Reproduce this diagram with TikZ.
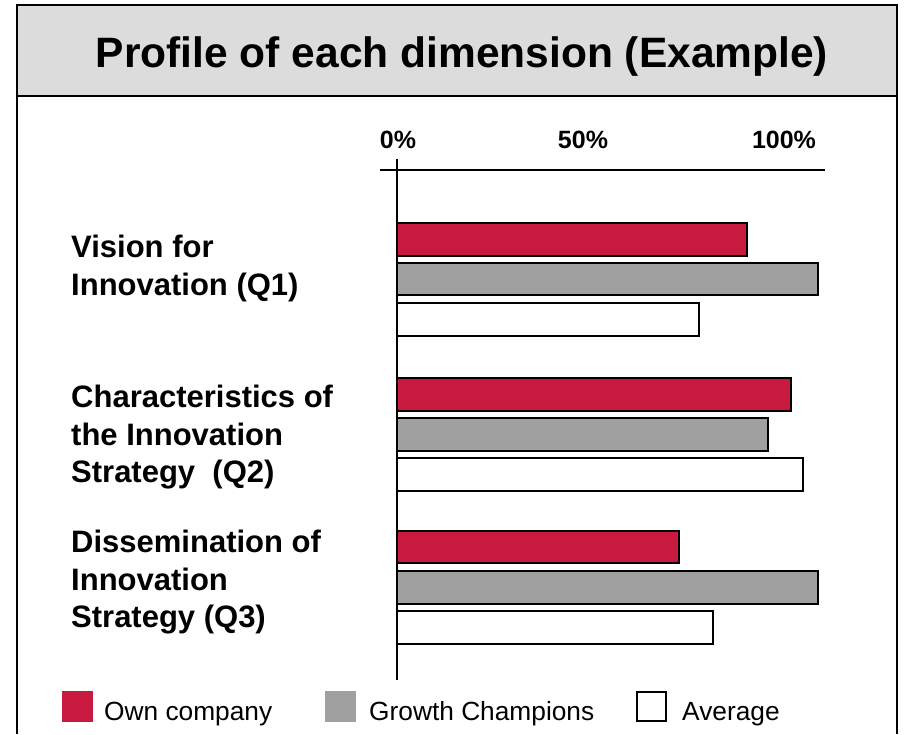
\documentclass[tikz,border=0pt]{standalone}
\usepackage{fontspec}
\setmainfont{Liberation Sans}
\definecolor{crim}{HTML}{C8193F}
\definecolor{bargray}{HTML}{A0A0A0}
\definecolor{titlegray}{HTML}{DCDCDC}
\begin{document}
\begin{tikzpicture}[x=1pt,y=-1pt,
  lab/.style={anchor=base west, inner sep=0pt, font=\fontsize{31}{38}\selectfont\bfseries},
  axlab/.style={anchor=base, inner sep=0pt, font=\fontsize{25}{30}\selectfont\bfseries},
  leg/.style={anchor=base west, inner sep=0pt, font=\fontsize{26.3}{30}\selectfont},
  bar/.style={draw=black, line width=2pt},
  frameline/.style={line width=2.5pt}]
\useasboundingbox (0,0) rectangle (910,734);
\fill[white] (0,0) rectangle (910,734);
% frame and title
\draw[frameline, fill=titlegray] (17,5) rectangle (897,96);
\draw[frameline] (17,96) -- (17,734) (897,96) -- (897,734);
\node[font=\fontsize{42.5}{50}\selectfont\bfseries, inner sep=0pt, anchor=base] (title) at (462,67) {Profile of each dimension (Example)};
% axes
\coordinate (xl) at (380,170);
\coordinate (xr) at (825,170);
\coordinate (yt) at (397,159);
\coordinate (yb) at (397,680);
\draw[line width=1.5pt] (xl) -- (xr);
\draw[line width=1.5pt] (yt) -- (yb);
\node[axlab] (p0) at (398,148) {0\%};
\node[axlab] (p50) at (583,148) {50\%};
\node[axlab] (p100) at (784,148) {100\%};
% bars Q1
\draw[bar, fill=crim] (397,223) rectangle (747,256);
\draw[bar, fill=bargray] (397,263) rectangle (818,295);
\draw[bar, fill=white] (397,303) rectangle (699,336);
% bars Q2
\draw[bar, fill=crim] (397,378) rectangle (791,411);
\draw[bar, fill=bargray] (397,418) rectangle (768,451);
\draw[bar, fill=white] (397,458) rectangle (803,491);
% bars Q3
\draw[bar, fill=crim] (397,531) rectangle (679,563);
\draw[bar, fill=bargray] (397,571) rectangle (818,604);
\draw[bar, fill=white] (397,611) rectangle (713,644);
% redraw axis over bars
\draw[line width=1.5pt] (yt) -- (yb);
% labels
\node[lab] (q1a) at (71,257) {Vision for};
\node[lab] (q1b) at (71,295) {Innovation (Q1)};
\node[lab] (q2a) at (71,407) {Characteristics of};
\node[lab] (q2b) at (71,445) {the Innovation};
\node[lab] (q2c) at (71,482) {Strategy~~(Q2)};
\node[lab] (q3a) at (71,552) {Dissemination of};
\node[lab] (q3b) at (71,590) {Innovation};
\node[lab] (q3c) at (71,627) {Strategy (Q3)};
% legend
\fill[crim] (62,691) rectangle (93,722);
\fill[bargray] (325,691) rectangle (356,722);
\draw[line width=1.5pt, fill=white] (637,692) rectangle (666,721);
\node[leg] (l1) at (104,720) {Own company};
\node[leg] (l2) at (369,720) {Growth Champions};
\node[leg] (l3) at (682,720) {Average};
\end{tikzpicture}
\end{document}
